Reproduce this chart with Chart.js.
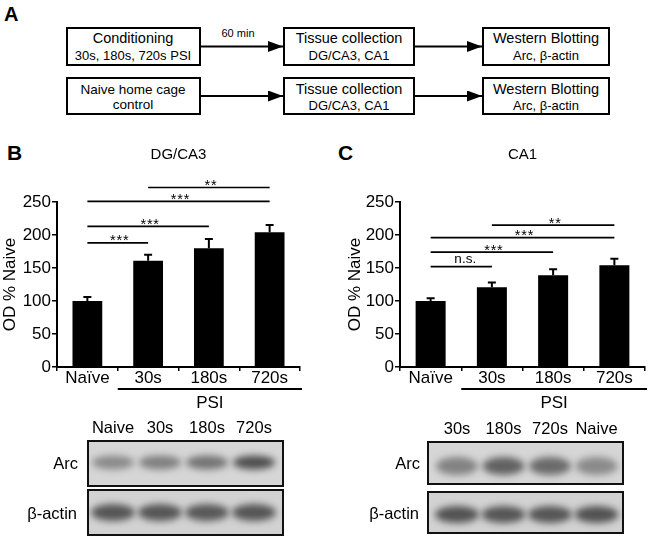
<!DOCTYPE html>
<html>
<head>
<meta charset="utf-8">
<script src="https://cdn.jsdelivr.net/npm/chart.js@4.4.1/dist/chart.umd.min.js"></script>
<style>
  body { margin: 0; background: #fff; width: 648px; height: 537px; position: relative; overflow: hidden;
         font-family: "Liberation Sans", Arial, sans-serif; color: #000; }
  .abs { position: absolute; }
  .letter { font-weight: bold; font-size: 21px; line-height: 21px; }
</style>
</head>
<body>

<!-- ---------------------------- Panel A: flow chart ---------------------------- -->
<div class="abs letter" style="left:4px;top:4px;font-size:20px">A</div>
<svg class="abs" style="left:0;top:0" width="648" height="130" font-family="Liberation Sans, Arial, sans-serif">
  <defs>
    <marker id="head" markerUnits="userSpaceOnUse" markerWidth="15" markerHeight="11" refX="15" refY="5.5" orient="auto">
      <path d="M0,0 L15,5.5 L0,11 z" fill="#000"/>
    </marker>
  </defs>
  <g fill="#fff" stroke="#000" stroke-width="2">
    <rect x="67" y="28" width="133" height="37"/>
    <rect x="284" y="28" width="130" height="37"/>
    <rect x="483" y="28" width="126" height="37"/>
    <rect x="67" y="78" width="133" height="36"/>
    <rect x="284" y="78" width="130" height="36"/>
    <rect x="483" y="78" width="126" height="36"/>
  </g>
  <g stroke="#000" stroke-width="2">
    <line x1="200" y1="46.5" x2="283" y2="46.5" marker-end="url(#head)"/>
    <line x1="414" y1="46.5" x2="482" y2="46.5" marker-end="url(#head)"/>
    <line x1="200" y1="96" x2="283" y2="96" marker-end="url(#head)"/>
    <line x1="414" y1="96" x2="482" y2="96" marker-end="url(#head)"/>
  </g>
  <g text-anchor="middle" dominant-baseline="central" fill="#000">
    <text x="238" y="33" font-size="11">60 min</text>
    <text x="133" y="38" font-size="14.5">Conditioning</text>
    <text x="133" y="55" font-size="13">30s, 180s, 720s PSI</text>
    <text x="349" y="38" font-size="14.5">Tissue collection</text>
    <text x="349" y="55" font-size="13">DG/CA3, CA1</text>
    <text x="546" y="38" font-size="14.5">Western Blotting</text>
    <text x="546" y="55" font-size="13">Arc, β-actin</text>
    <text x="133" y="89" font-size="13.5">Naive home cage</text>
    <text x="133" y="104" font-size="13.5">control</text>
    <text x="349" y="89" font-size="14.5">Tissue collection</text>
    <text x="349" y="105" font-size="13">DG/CA3, CA1</text>
    <text x="546" y="89" font-size="14.5">Western Blotting</text>
    <text x="546" y="105" font-size="13">Arc, β-actin</text>
  </g>
</svg>

<!-- ---------------------------- Panels B / C: bar charts ---------------------------- -->
<div class="abs letter" style="left:7px;top:142px">B</div>
<div class="abs letter" style="left:338px;top:142px">C</div>
<div class="abs" style="left:0;top:140px;width:320px;height:275px"><canvas id="chartB"></canvas></div>
<div class="abs" style="left:320px;top:140px;width:328px;height:275px"><canvas id="chartC"></canvas></div>

<!-- ---------------------------- Western blots ---------------------------- -->
<canvas id="blots" class="abs" style="left:0;top:410px" width="648" height="127"></canvas>

<script>
// ------------------------------- DATA ------------------------------- //
const groups = ['Naïve', '30s', '180s', '720s'];
const yTicks = [0, 50, 100, 150, 200, 250];

// DG/CA3 (panel B)
const dgMeans = [100, 161, 180, 204];
const dgErr = [6, 9, 14, 11];
const dgFrom = [0, 0, 0, 1];
const dgTo = [1, 2, 3, 3];
const dgLevel = [188, 213, 251, 272];
const dgMarks = ['***', '***', '***', '**'];

// CA1 (panel C)
const caMeans = [100, 121, 139, 154];
const caErr = [4, 7, 9, 10];
const caFrom = [0, 0, 0, 1];
const caTo = [1, 2, 3, 3];
const caLevel = [152, 174, 196, 215];
const caMarks = ['n.s.', '***', '***', '**'];

// blots: lane names and band darkness (0..1)
const lanesB = ['Naive', '30s', '180s', '720s'];
const arcB = [0.45, 0.52, 0.6, 0.85];
const actinB = [0.8, 0.8, 0.78, 0.8];
const lanesC = ['30s', '180s', '720s', 'Naive'];
const arcC = [0.5, 0.72, 0.66, 0.45];
const actinC = [0.82, 0.8, 0.8, 0.82];

const FONT = '"Liberation Sans", Arial, sans-serif';
Chart.defaults.font.family = FONT;
Chart.defaults.color = '#000';

// ------------------------------- Chart helpers ------------------------------- //
function annotations(title, err, from, to, level, marks) {
    return {
        id: 'annotations',
        afterDatasetsDraw(chart) {
            const { ctx, chartArea, scales: { x, y } } = chart;
            const means = chart.data.datasets[0].data;
            ctx.save();
            ctx.strokeStyle = '#000';
            ctx.fillStyle = '#000';

            // error bars (upper half, lower half is hidden in the black bar)
            ctx.lineWidth = 2;
            means.forEach((m, i) => {
                const px = x.getPixelForValue(i);
                const top = y.getPixelForValue(m + err[i]);
                ctx.beginPath();
                ctx.moveTo(px, y.getPixelForValue(m));
                ctx.lineTo(px, top);
                ctx.moveTo(px - 4, top);
                ctx.lineTo(px + 4, top);
                ctx.stroke();
            });

            // significance lines
            ctx.lineWidth = 1.7;
            ctx.textAlign = 'center';
            ctx.textBaseline = 'alphabetic';
            level.forEach((lv, k) => {
                const x0 = x.getPixelForValue(from[k]);
                const x1 = x.getPixelForValue(to[k]);
                const py = y.getPixelForValue(lv);
                ctx.beginPath();
                ctx.moveTo(x0, py);
                ctx.lineTo(x1, py);
                ctx.stroke();
                if (marks[k] === 'n.s.') {
                    ctx.font = '13.5px ' + FONT;
                    ctx.letterSpacing = '0px';
                    ctx.fillText(marks[k], (x0 + x1) / 2 + 4, py - 3.5);
                } else {
                    ctx.font = '14.5px ' + FONT;
                    ctx.letterSpacing = '0.8px';
                    ctx.fillText(marks[k], (x0 + x1) / 2 + 2, py + 2.5);
                }
            });
            ctx.letterSpacing = '0px';

            // PSI bracket under the three conditioned groups
            const step = x.getPixelForValue(1) - x.getPixelForValue(0);
            const bx0 = x.getPixelForValue(1) - step / 2;
            const bx1 = chartArea.right + 2;
            const by = chartArea.bottom + 22;
            ctx.lineWidth = 2;
            ctx.beginPath();
            ctx.moveTo(bx0, by);
            ctx.lineTo(bx1, by);
            ctx.stroke();
            ctx.font = '17px ' + FONT;
            ctx.textBaseline = 'middle';
            ctx.fillText('PSI', (bx0 + bx1) / 2, by + 14);

            // panel title, centred over the plot area
            ctx.font = '15px ' + FONT;
            ctx.fillText(title, (chartArea.left + chartArea.right) / 2, 15);
            ctx.restore();
        }
    };
}

function makeChart(id, title, means, err, from, to, level, marks, padLeft, padRight, yWidth) {
    return new Chart(document.getElementById(id).getContext('2d'), {
        type: 'bar',
        data: {
            labels: groups,
            datasets: [{
                data: means,
                backgroundColor: '#000',
                borderWidth: 0,
                barPercentage: 0.49,
                categoryPercentage: 1
            }]
        },
        options: {
            responsive: true,
            maintainAspectRatio: false,
            animation: false,
            layout: { padding: { left: padLeft, right: padRight, top: 62, bottom: 20 } },
            plugins: { legend: { display: false }, tooltip: { enabled: false } },
            scales: {
                x: {
                    border: { display: true, color: '#000', width: 2 },
                    grid: { drawOnChartArea: false, drawTicks: true, tickLength: 4, color: '#000', lineWidth: 1.5 },
                    ticks: { font: { size: 17 }, color: '#000', padding: -3, maxRotation: 0 },
                    afterFit: (s) => { s.height = 28; }
                },
                y: {
                    min: 0,
                    max: 250,
                    afterBuildTicks: (s) => { s.ticks = yTicks.map(v => ({ value: v })); },
                    border: { display: true, color: '#000', width: 2 },
                    grid: { drawOnChartArea: false, drawTicks: true, tickLength: 5, color: '#000', lineWidth: 1.5 },
                    ticks: { font: { size: 17 }, color: '#000', padding: 1 },
                    title: { display: true, text: 'OD % Naive', font: { size: 17 }, color: '#000', padding: 0 },
                    afterFit: (s) => { s.width = yWidth; }
                }
            }
        },
        plugins: [annotations(title, err, from, to, level, marks)]
    });
}

makeChart('chartB', 'DG/CA3', dgMeans, dgErr, dgFrom, dgTo, dgLevel, dgMarks, 0, 20, 57);
makeChart('chartC', 'CA1', caMeans, caErr, caFrom, caTo, caLevel, caMarks, 25, 3, 55);

// ------------------------------- Western blots ------------------------------- //
const bctx = document.getElementById('blots').getContext('2d');
const OY = 410; // canvas top on the page

function band(ctx, cx, cy, w, h, dark) {
    const v = Math.round(205 - 150 * dark);
    ctx.fillStyle = `rgb(${v},${v},${v})`;
    ctx.beginPath();
    ctx.ellipse(cx, cy, w / 2, h / 2, 0, 0, Math.PI * 2);
    ctx.fill();
}

function blotStrip(ctx, x, y, w, h, centers, strength, bandW, bandH, shift, bg) {
    ctx.save();
    ctx.fillStyle = bg;
    ctx.fillRect(x, y, w, h);
    ctx.beginPath();
    ctx.rect(x, y, w, h);
    ctx.clip();
    ctx.filter = 'blur(3.5px)';
    centers.forEach((cx, i) => band(ctx, cx, y + h / 2 + shift, bandW, bandH, strength[i]));
    ctx.restore();
    ctx.lineWidth = 2;
    ctx.strokeStyle = '#111';
    ctx.strokeRect(x, y, w, h);
}

function blotPanel(ctx, x, first, step, lanes, arc, actin, arcTop, arcH, actTop, actH, labelX, labelY, arcShift, actShift, arcBandH) {
    const centers = lanes.map((_, i) => x + first + i * step);
    ctx.fillStyle = '#000';
    ctx.font = '16.5px ' + FONT;
    ctx.textAlign = 'center';
    ctx.textBaseline = 'middle';
    lanes.forEach((l, i) => ctx.fillText(l, centers[i], labelY - OY));
    blotStrip(ctx, x, arcTop - OY, 195, arcH, centers, arc, 42, arcBandH, arcShift, '#d6d6d6');
    blotStrip(ctx, x, actTop - OY, 195, actH, centers, actin, 44, 17, actShift, '#d2d2d2');
    ctx.fillStyle = '#000';
    ctx.font = '16.5px ' + FONT;
    ctx.textAlign = 'right';
    ctx.textBaseline = 'middle';
    ctx.fillText('Arc', labelX, arcTop - OY + arcH / 2 + 1);
    ctx.fillText('β-actin', labelX - 1, actTop - OY + actH / 2 + 2);
}

blotPanel(bctx, 88, 25, 47, lanesB, arcB, actinB, 441, 45, 490, 45, 78, 428, -1, 0, 14);
blotPanel(bctx, 428, 29, 46.5, lanesC, arcC, actinC, 442, 42, 492, 41, 420, 429, 3, 2, 18);
</script>
</body>
</html>
